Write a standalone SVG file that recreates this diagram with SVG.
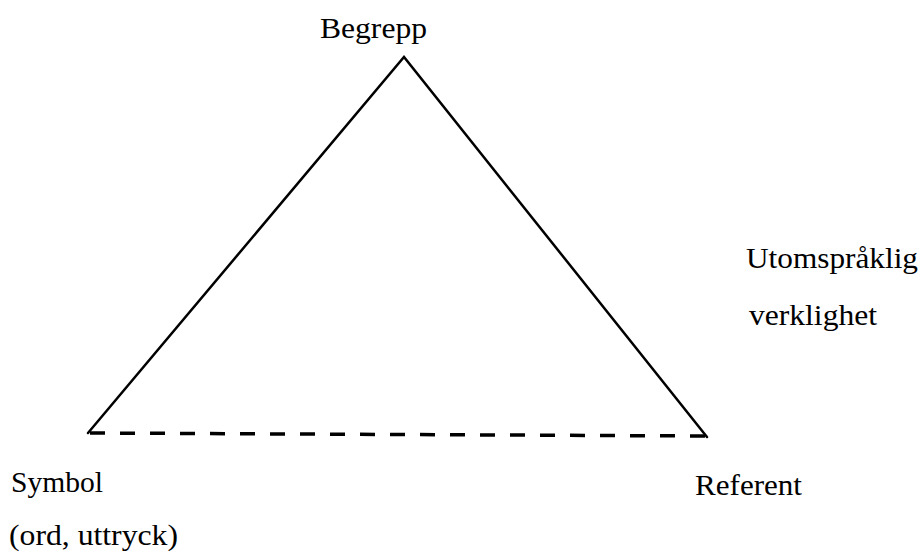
<svg xmlns="http://www.w3.org/2000/svg" width="921" height="552" viewBox="0 0 921 552">
<style>
.lbl{font-family:"Liberation Serif","Times New Roman",serif;font-size:30px;fill:#000}
.edge{stroke:#000;stroke-width:2.5;fill:none;stroke-linecap:round;stroke-linejoin:miter}
.dash{stroke:#000;stroke-width:3.5;fill:none;stroke-dasharray:15 15}
</style>
<rect width="921" height="552" fill="#fff"/>
<g id="connectors">
<polyline class="edge" points="88,433 404,57 707,437"/>
<line class="dash" x1="90" y1="433" x2="707" y2="436"/>
</g>
<g id="begrepp"><text class="lbl" x="320" y="38" textLength="107" lengthAdjust="spacingAndGlyphs">Begrepp</text></g>
<g id="utomsprakig"><text class="lbl" x="746" y="268" textLength="172" lengthAdjust="spacingAndGlyphs">Utomspråklig</text>
<text class="lbl" x="749" y="325" textLength="128" lengthAdjust="spacingAndGlyphs">verklighet</text></g>
<g id="symbol"><text class="lbl" x="11" y="492" textLength="92" lengthAdjust="spacingAndGlyphs">Symbol</text>
<text class="lbl" x="9" y="545" textLength="169" lengthAdjust="spacingAndGlyphs">(ord, uttryck)</text></g>
<g id="referent"><text class="lbl" x="695" y="495" textLength="107" lengthAdjust="spacingAndGlyphs">Referent</text></g>
</svg>
